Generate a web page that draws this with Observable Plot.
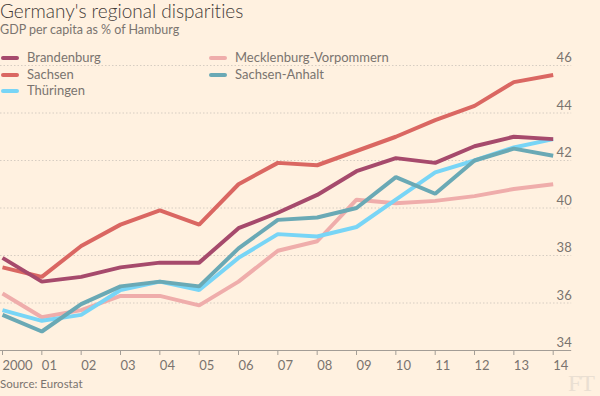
<!DOCTYPE html>
<html>
<head>
<meta charset="utf-8">
<script src="https://cdn.jsdelivr.net/npm/d3@7"></script>
<script src="https://cdn.jsdelivr.net/npm/@observablehq/plot@0.6"></script>
<style>
  html, body { margin:0; padding:0; background:#fff1e0; }
  #wrap { position:relative; width:600px; height:396px; overflow:hidden; background:#fff1e0; font-family: Lato, "Open Sans", sans-serif; font-variant-ligatures: none; }
  #wrap svg { position:absolute; left:0; top:0; }
  .title { position:absolute; left:0; top:0px; font-size:19px; font-weight:300; color:#3f3a37; white-space:nowrap; line-height:22px; }
  .subtitle { position:absolute; left:0; top:22px; font-size:12.5px; color:#7a746f; white-space:nowrap; line-height:16px; }
  .legend { position:absolute; font-size:13px; color:#7a746f; line-height:16px; white-space:nowrap; }
  .legend span.sw { display:inline-block; width:18px; height:4px; border-radius:2px; vertical-align:middle; margin-right:8px; position:relative; top:-1px; }
  .source { position:absolute; left:0; top:377px; font-size:11.5px; color:#7a746f; white-space:nowrap; }
  .ft { position:absolute; left:568px; top:370px; font-family:"Liberation Serif", "DejaVu Serif", serif; font-size:24px; color:#eadfd2; letter-spacing:-1px; }
</style>
</head>
<body>
<div id="wrap">
  <div id="chart"></div>
  <div class="title">Germany's regional disparities</div>
  <div class="subtitle">GDP per capita as % of Hamburg</div>
  <div id="legend"></div>
  <div class="source">Source: Eurostat</div>
  <div class="ft">FT</div>
</div>
<script>
const years = [2000, 2001, 2002, 2003, 2004, 2005, 2006, 2007, 2008, 2009, 2010, 2011, 2012, 2013, 2014];
const xLabels = ["2000", "01", "02", "03", "04", "05", "06", "07", "08", "09", "10", "11", "12", "13", "14"];
const yTicks = [34, 36, 38, 40, 42, 44, 46];

const regions = ["Brandenburg", "Sachsen", "Thüringen", "Mecklenburg-Vorpommern", "Sachsen-Anhalt"];
const colors = ["#a64a6c", "#da6762", "#78d5f6", "#efadab", "#6aa9b5"];

const brandenburg = [37.9, 36.9, 37.1, 37.5, 37.7, 37.7, 39.15, 39.8, 40.55, 41.55, 42.1, 41.9, 42.6, 43.0, 42.9];
const sachsen = [37.5, 37.1, 38.4, 39.3, 39.9, 39.3, 41.0, 41.9, 41.8, 42.4, 43.0, 43.7, 44.3, 45.3, 45.6];
const thueringen = [35.7, 35.25, 35.5, 36.55, 36.9, 36.55, 37.9, 38.9, 38.8, 39.2, 40.35, 41.5, 42.0, 42.55, 42.9];
const mecklenburg = [36.4, 35.4, 35.7, 36.3, 36.3, 35.9, 36.9, 38.2, 38.6, 40.35, 40.2, 40.3, 40.5, 40.8, 41.0];
const anhalt = [35.5, 34.8, 35.95, 36.7, 36.9, 36.7, 38.3, 39.5, 39.6, 40.0, 41.3, 40.6, 42.0, 42.5, 42.2];

// drawing order (bottom to top)
const series = [
  ["Mecklenburg-Vorpommern", mecklenburg],
  ["Thüringen", thueringen],
  ["Sachsen-Anhalt", anhalt],
  ["Sachsen", sachsen],
  ["Brandenburg", brandenburg]
];
const rows = [];
for (const [region, vals] of series) {
  vals.forEach((v, i) => rows.push({region, year: years[i], value: v}));
}

const axisGray = "#a39d96";
const textGray = "#7a746f";

const plot = Plot.plot({
  width: 600,
  height: 396,
  marginTop: 65,
  marginBottom: 46,
  marginLeft: 2,
  marginRight: 47.3,
  x: {domain: [2000, 2014]},
  y: {domain: [34, 46], axis: null},
  color: {domain: regions, range: colors},
  style: {background: "transparent", fontFamily: "Lato, 'Open Sans', sans-serif", color: textGray},
  marks: [
    Plot.ruleY(yTicks.filter(d => d > 34), {y: d => d, stroke: "#d6cdc2", strokeDasharray: "1.5,2", insetLeft: -2, insetRight: -18.5}),
    Plot.ruleY([34], {y: d => d, stroke: axisGray, insetLeft: -2, insetRight: -18.5}),
    Plot.axisX({ticks: years, tickFormat: d => xLabels[years.indexOf(d)], tickSize: 5, tickPadding: 5, textAnchor: "start", dx: 0, fontSize: 13, stroke: axisGray, fill: textGray, label: null}),
    Plot.text(yTicks, {x: 2014, y: d => d, text: d => String(d), textAnchor: "end", lineAnchor: "bottom", dx: 18.5, dy: -3.5, fontSize: 13, fill: textGray}),
    Plot.line(rows, {x: "year", y: "value", z: "region", stroke: "region", strokeWidth: 4, strokeLinejoin: "miter", strokeLinecap: "butt"})
  ]
});
document.getElementById("chart").appendChild(plot);

// legend
const legendPos = [
  {left: 1, top: 49}, {left: 1, top: 66}, {left: 1, top: 82},
  {left: 209, top: 49}, {left: 209, top: 66}
];
const legend = document.getElementById("legend");
regions.forEach((r, i) => {
  const d = document.createElement("div");
  d.className = "legend";
  d.style.left = legendPos[i].left + "px";
  d.style.top = legendPos[i].top + "px";
  d.innerHTML = `<span class="sw" style="background:${colors[i]}"></span>${r}`;
  legend.appendChild(d);
});
</script>
</body>
</html>
